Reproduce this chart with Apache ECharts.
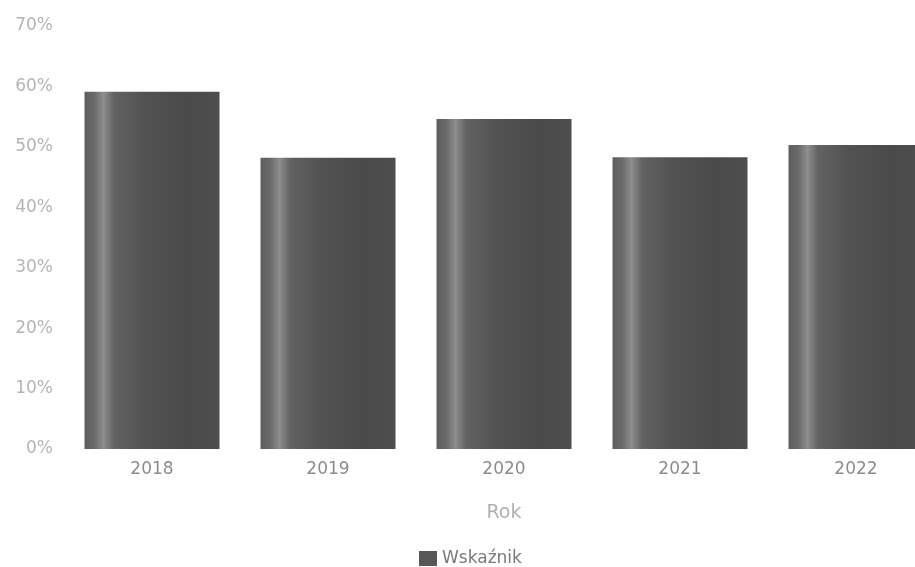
<!DOCTYPE html>
<html><head><meta charset="utf-8">
<script src="https://cdn.jsdelivr.net/npm/echarts@6/dist/echarts.min.js"></script>
<style>html,body{margin:0;padding:0;background:#fff}#c{width:915px;height:567px}</style>
</head><body><div id="c"></div>
<script>
const years = ['2018','2019','2020','2021','2022'];
const values = [59.1, 48.2, 54.6, 48.3, 50.3];
const yTicks = [0,10,20,30,40,50,60,70];
const seriesName = 'Wskaźnik';
const axisName = 'Rok';

const grad = new echarts.graphic.LinearGradient(0,0,1,0,[
  {offset:0,color:'#5e5e5e'},
  {offset:0.07,color:'#696969'},
  {offset:0.14,color:'#8e8e8e'},
  {offset:0.22,color:'#626262'},
  {offset:0.45,color:'#525252'},
  {offset:0.75,color:'#4a4a4a'},
  {offset:1,color:'#4e4e4e'}
]);
const FF = 'DejaVu Sans';
const chart = echarts.init(document.getElementById('c'));
chart.setOption({
  animation:false,
  textStyle:{fontFamily:FF},
  grid:{left:64,width:880,top:26,height:423,containLabel:false,outerBoundsMode:'none'},
  legend:{top:545,left:414,itemWidth:18,itemHeight:15,icon:'rect',itemGap:8,
    itemStyle:{color:'#575757'},
    textStyle:{color:'#7a7a7a',fontSize:17,fontFamily:FF},data:[seriesName]},
  xAxis:{type:'category',data:years,name:axisName,nameLocation:'middle',nameGap:55,
    nameTextStyle:{color:'#b0b0b0',fontSize:19,fontFamily:FF},
    axisLine:{show:false},axisTick:{show:false},
    axisLabel:{color:'#8c8c8c',fontSize:17,margin:12,fontFamily:FF}},
  yAxis:{type:'value',min:yTicks[0],max:yTicks[yTicks.length-1],interval:10,
    axisLine:{show:false},axisTick:{show:false},splitLine:{show:false},
    axisLabel:{color:'#b4b4b4',fontSize:17,margin:11,fontFamily:FF,formatter:v=>v+'%'}},
  series:[{name:seriesName,type:'bar',data:values,barWidth:135,
    itemStyle:{color:grad}}]
});
</script></body></html>
